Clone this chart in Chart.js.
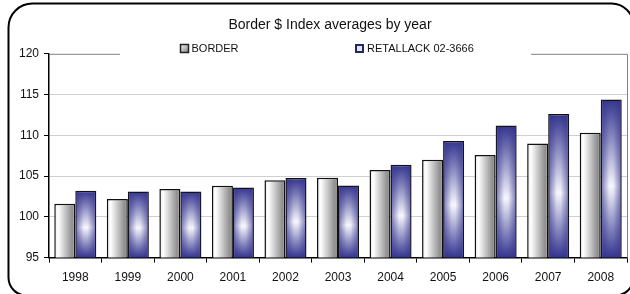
<!DOCTYPE html>
<html>
<head>
<meta charset="utf-8">
<script src="https://cdn.jsdelivr.net/npm/chart.js@4/dist/chart.umd.min.js"></script>
<style>
  html, body { margin: 0; padding: 0; background: #fff; overflow: hidden; }
  #wrap { width: 630px; height: 294px; position: relative; }
</style>
</head>
<body>
<div id="wrap"><canvas id="chart"></canvas></div>
<script>
// values
const years = ['1998', '1999', '2000', '2001', '2002', '2003', '2004', '2005', '2006', '2007', '2008'];
const border = [101.6, 102.2, 103.4, 103.8, 104.5, 104.8, 105.75, 107.0, 107.6, 109.0, 110.3];
const retallack = [103.2, 103.1, 103.1, 103.6, 104.75, 103.85, 106.4, 109.3, 111.2, 112.6, 114.4];
const seriesNames = ['BORDER', 'RETALLACK 02-3666'];
const yTicks = [95, 100, 105, 110, 115, 120];

const FONT = "'Liberation Sans', Arial, sans-serif";
const BLUE = '#34348f';

// grey bars: light on the left, darker to the right
function borderFill(context) {
    const chart = context.chart;
    const area = chart.chartArea;
    if (!area) return '#bbbbbb';
    const x = chart.scales.x;
    const cw = (area.right - area.left) / years.length;
    const c = x.getPixelForValue(context.dataIndex);
    const g = chart.ctx.createLinearGradient(c - 0.4 * cw, 0, c, 0);
    g.addColorStop(0, '#e6e6e6');
    g.addColorStop(0.18, '#ffffff');
    g.addColorStop(0.85, '#8e8e8e');
    g.addColorStop(1, '#a6a6a6');
    return g;
}

// blue bars: dark at top and bottom, white in the middle
function retFill(context) {
    const chart = context.chart;
    const area = chart.chartArea;
    if (!area) return BLUE;
    const y = chart.scales.y;
    const top = y.getPixelForValue(retallack[context.dataIndex]);
    const g = chart.ctx.createLinearGradient(0, top, 0, area.bottom);
    g.addColorStop(0, BLUE);
    g.addColorStop(0.55, '#f6f6fd');
    g.addColorStop(1, BLUE);
    return g;
}

const decor = {
    id: 'decor',
    afterLayout(chart) {
        // centre the title a little right, as in the picture
        const t = chart.titleBlock;
        const shift = 330 - (t.left + t.right) / 2;
        t.left += shift;
        t.right += shift;
    },
    beforeDraw(chart) {
        const ctx = chart.ctx;
        ctx.save();
        ctx.fillStyle = '#fff';
        ctx.fillRect(0, 0, chart.width, chart.height);
        // rounded outer frame, running just past the right and bottom edges
        ctx.strokeStyle = '#000';
        ctx.lineWidth = 2;
        ctx.beginPath();
        ctx.roundRect(8.5, 3.5, 625, 292, [24, 22, 18, 18]);
        ctx.stroke();
        ctx.restore();
    },
    afterDatasetsDraw(chart) {
        const ctx = chart.ctx;
        const a = chart.chartArea;
        const meta = chart.getDatasetMeta(1);
        ctx.save();
        meta.data.forEach((bar) => {
            const p = bar.getProps(['x', 'y', 'base', 'width'], true);
            const l = p.x - p.width / 2 + 1, r = p.x + p.width / 2 - 1;
            const bottom = Math.min(p.base, a.bottom) - 1;
            const g = ctx.createLinearGradient(l, 0, r, 0);
            g.addColorStop(0, 'rgba(52,52,143,0.6)');
            g.addColorStop(0.4, 'rgba(52,52,143,0)');
            g.addColorStop(0.6, 'rgba(52,52,143,0)');
            g.addColorStop(1, 'rgba(52,52,143,0.6)');
            ctx.fillStyle = g;
            ctx.fillRect(l, p.y + 1, r - l, bottom - p.y - 1);
        });
        ctx.restore();
    },
    afterDraw(chart) {
        const ctx = chart.ctx;
        const a = chart.chartArea;
        ctx.save();
        // plot frame: top line broken by the legend, and right side
        ctx.strokeStyle = '#808080';
        ctx.lineWidth = 1;
        ctx.beginPath();
        ctx.moveTo(a.left, a.top + 0.5);
        ctx.lineTo(120, a.top + 0.5);
        ctx.moveTo(531, a.top + 0.5);
        ctx.lineTo(a.right + 0.5, a.top + 0.5);
        ctx.lineTo(a.right + 0.5, a.bottom);
        ctx.stroke();

        // legend
        ctx.font = '11px ' + FONT;
        ctx.textBaseline = 'middle';
        const ly = 48.5;
        const g = ctx.createLinearGradient(180, 44, 189, 53);
        g.addColorStop(0, '#ffffff');
        g.addColorStop(1, '#7a7a7a');
        ctx.fillStyle = g;
        ctx.fillRect(180, 44, 9, 9);
        ctx.strokeStyle = '#222';
        ctx.lineWidth = 1.5;
        ctx.strokeRect(180.5, 44.5, 8, 8);
        ctx.fillStyle = '#111';
        ctx.fillText(seriesNames[0], 191.5, ly);

        ctx.fillStyle = '#e4e4f4';
        ctx.fillRect(355, 44, 9, 9);
        ctx.strokeStyle = '#262660';
        ctx.lineWidth = 2;
        ctx.strokeRect(356, 45, 7, 7);
        ctx.fillStyle = '#111';
        ctx.fillText(seriesNames[1], 367, ly);
        ctx.restore();
    }
};

new Chart(document.getElementById('chart'), {
    type: 'bar',
    data: {
        labels: years,
        datasets: [
            {
                label: seriesNames[0],
                data: border,
                backgroundColor: borderFill,
                borderColor: '#111',
                borderWidth: 1.5,
                borderSkipped: false
            },
            {
                label: seriesNames[1],
                data: retallack,
                backgroundColor: retFill,
                borderColor: '#111',
                borderWidth: 1.5,
                borderSkipped: false
            }
        ]
    },
    options: {
        responsive: true,
        maintainAspectRatio: false,
        animation: false,
        devicePixelRatio: 1,
        layout: { padding: { top: 4, left: 14, right: 3, bottom: 1 } },
        datasets: {
            bar: { categoryPercentage: 0.8, barPercentage: 1.0 }
        },
        plugins: {
            legend: { display: false },
            tooltip: { enabled: false },
            title: {
                display: true,
                text: 'Border $ Index averages by year',
                color: '#111',
                font: { family: FONT, size: 14, weight: 'normal' },
                padding: { top: 13, bottom: 20 }
            }
        },
        scales: {
            x: {
                grid: {
                    offset: true,
                    drawOnChartArea: false,
                    drawTicks: true,
                    tickLength: 5,
                    tickColor: '#000'
                },
                border: { color: '#000', width: 1.5 },
                ticks: {
                    color: '#111',
                    padding: 8,
                    font: { family: FONT, size: 12 }
                }
            },
            y: {
                min: yTicks[0],
                max: yTicks[yTicks.length - 1],
                afterBuildTicks: (axis) => { axis.ticks = yTicks.map(v => ({ value: v })); },
                grid: {
                    color: (c) => (c.tick && (c.tick.value === 95 || c.tick.value === 120)) ? 'rgba(0,0,0,0)' : '#cfcfcf',
                    tickColor: '#000',
                    tickLength: 5,
                    lineWidth: 1
                },
                border: { color: '#000', width: 1.5 },
                ticks: {
                    color: '#111',
                    padding: 5,
                    font: { family: FONT, size: 12 }
                }
            }
        }
    },
    plugins: [decor]
});
</script>
</body>
</html>
